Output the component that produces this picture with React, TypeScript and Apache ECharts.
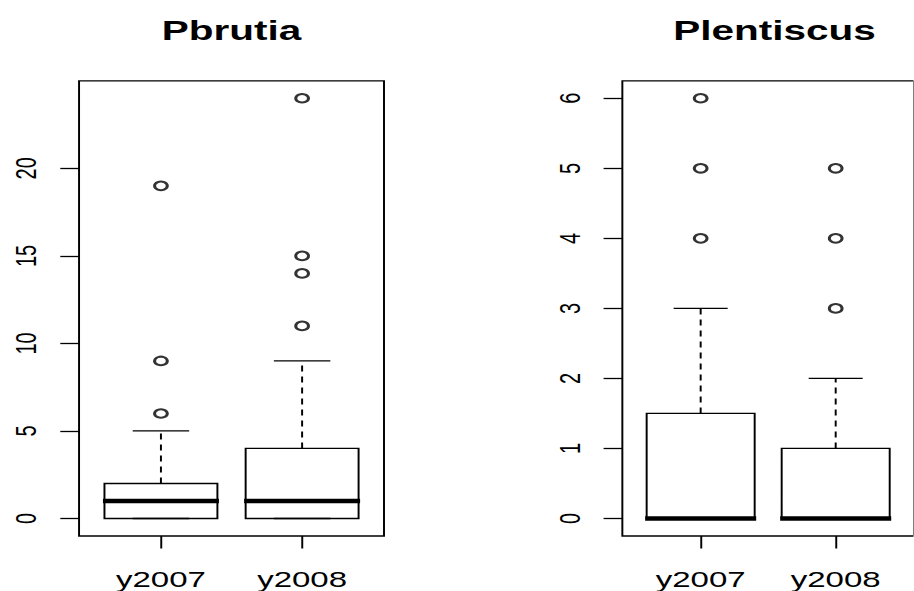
import React, { useEffect, useRef } from "react";
import * as echarts from "echarts";

// ---- data ----
const categories = ["y2007", "y2008"];
const panelTitles = ["Pbrutia", "Plentiscus"];
// [lower whisker, Q1, median, Q3, upper whisker]
const pbrutiaBoxes = [
  [0, 0, 1, 2, 5],
  [0, 0, 1, 4, 9],
];
const pbrutiaOutliers = [
  [6, 9, 19],
  [11, 14, 15, 24],
];
const plentiscusBoxes = [
  [0, 0, 0, 1.5, 3],
  [0, 0, 0, 1, 2],
];
const plentiscusOutliers = [
  [4, 5, 6],
  [3, 4, 5],
];
const pbrutiaTicks = [0, 5, 10, 15, 20];
const plentiscusTicks = [0, 1, 2, 3, 4, 5, 6];

// ---- layout (native coords, page is stretched horizontally) ----
const S = 1.5;
const W = 914 / S;
const H = 591;
const FONT = '"Liberation Sans", Arial, sans-serif';

const panels = [
  { left: 52.7, width: 203.3, yMin: -1, yMax: 25, boxes: pbrutiaBoxes, outliers: pbrutiaOutliers, ticks: pbrutiaTicks },
  { left: 414.9, width: 202.8, yMin: -0.25, yMax: 6.25, boxes: plentiscusBoxes, outliers: plentiscusOutliers, ticks: plentiscusTicks },
];
const TOP = 80.8;
const PH = 457.2;

function renderBox(params: any, api: any) {
  const x = api.value(0);
  const mn = api.value(1), q1 = api.value(2), md = api.value(3), q3 = api.value(4), mx = api.value(5);
  const c = (xx: number, yy: number) => api.coord([xx, yy]);
  const xl = c(x - 0.4, q3)[0];
  const xr = c(x + 0.4, q3)[0];
  const xc = c(x, q3)[0];
  const yq3 = c(x, q3)[1];
  const yq1 = c(x, q1)[1];
  const ymx = c(x, mx)[1];
  const ymn = c(x, mn)[1];
  const ymd = c(x, md)[1];
  const capL = c(x - 0.2, mx)[0];
  const capR = c(x + 0.2, mx)[0];
  const ls = { stroke: "#000", lineWidth: 1.3 };
  const dash = { stroke: "#000", lineWidth: 1.3, lineDash: [6, 5] };
  return {
    type: "group",
    children: [
      { type: "line", shape: { x1: xc, y1: yq3, x2: xc, y2: ymx }, style: dash },
      { type: "line", shape: { x1: xc, y1: yq1, x2: xc, y2: ymn }, style: dash },
      { type: "line", shape: { x1: capL, y1: ymx, x2: capR, y2: ymx }, style: ls },
      { type: "line", shape: { x1: capL, y1: ymn, x2: capR, y2: ymn }, style: ls },
      { type: "rect", shape: { x: xl, y: yq3, width: xr - xl, height: yq1 - yq3 }, style: { fill: "none", stroke: "#000", lineWidth: 1.3 } },
      { type: "line", shape: { x1: xl - 1, y1: ymd, x2: xr + 1, y2: ymd }, style: { stroke: "#000", lineWidth: 4.5 } },
    ],
  };
}

export default function App() {
  const ref = useRef<HTMLDivElement>(null);
  useEffect(() => {
    if (!ref.current) return;
    const chart = echarts.init(ref.current, undefined, { renderer: "svg", width: W, height: H });
    const grid: any[] = [];
    const xAxis: any[] = [];
    const yAxis: any[] = [];
    const series: any[] = [];
    const graphic: any[] = [];
    panels.forEach((p, i) => {
      grid.push({ left: p.left, top: TOP, width: p.width, height: PH, show: true, borderColor: "#000", borderWidth: 1.3, backgroundColor: "transparent" });
      xAxis.push({
        type: "value", gridIndex: i, min: 0.42, max: 2.58, position: "bottom",
        axisLine: { show: false, onZero: false },
        axisTick: { show: true, length: 12.5, customValues: [1, 2], lineStyle: { color: "#000", width: 1.3 } },
        axisLabel: { show: true, customValues: [1, 2], formatter: (v: number) => categories[Math.round(v) - 1], margin: 33, fontSize: 22, color: "#000", fontFamily: FONT },
        splitLine: { show: false },
      });
      yAxis.push({
        type: "value", gridIndex: i, min: p.yMin, max: p.yMax, position: "left",
        axisLine: { show: false, onZero: false },
        axisTick: { show: true, length: 12.5, customValues: p.ticks, lineStyle: { color: "#000", width: 1.3 } },
        axisLabel: { show: true, customValues: p.ticks, rotate: 90, margin: 25.5, fontSize: 20, color: "#000", fontFamily: FONT },
        splitLine: { show: false },
      });
      series.push({
        type: "custom", xAxisIndex: i, yAxisIndex: i, renderItem: renderBox,
        encode: { x: 0, y: [1, 2, 3, 4, 5] },
        data: p.boxes.map((b, k) => [k + 1, ...b]),
      });
      series.push({
        type: "scatter", xAxisIndex: i, yAxisIndex: i, symbol: "emptyCircle", symbolSize: 8.5,
        itemStyle: { color: "#000", borderColor: "#000", borderWidth: 0.8 },
        data: p.outliers.flatMap((vals, k) => vals.map((v) => [k + 1, v])),
      });
      graphic.push({
        type: "text", x: p.left + p.width / 2, y: 31,
        style: { text: panelTitles[i], fontSize: 27, fontWeight: "bold", fontFamily: FONT, fill: "#000", align: "center", verticalAlign: "middle" },
      });
    });
    chart.setOption({ animation: false, backgroundColor: "#fff", grid, xAxis, yAxis, series, graphic });
    return () => chart.dispose();
  }, []);
  return (
    <div style={{ position: "absolute", left: 0, top: 0, width: 914, height: H, overflow: "hidden", background: "#fff" }}>
      <div ref={ref} style={{ width: W, height: H, transform: `scaleX(${S})`, transformOrigin: "0 0" }} />
    </div>
  );
}
